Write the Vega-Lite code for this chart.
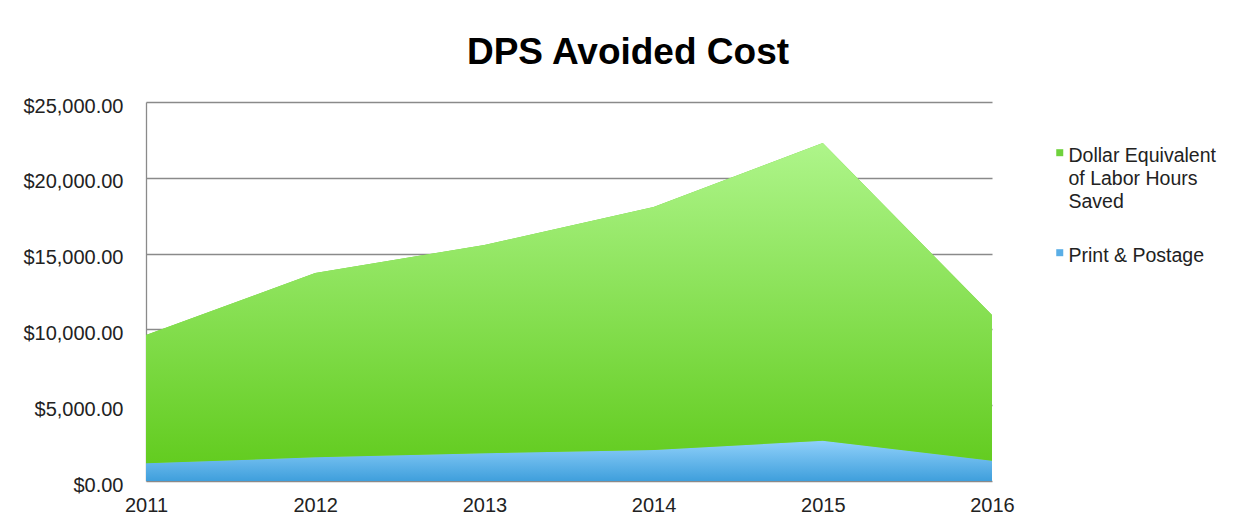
{
  "$schema": "https://vega.github.io/schema/vega-lite/v6.json",
  "width": 846,
  "height": 379,
  "autosize": {"type": "none"},
  "padding": {"left": 146, "top": 102, "right": 257, "bottom": 46},
  "background": "white",
  "config": {
    "view": {"stroke": null},
    "font": "Liberation Sans",
    "style": {"guide-label": {"lineHeight": 23}}
  },
  "title": {
    "text": "DPS Avoided Cost",
    "font": "Liberation Sans",
    "fontSize": 37,
    "fontWeight": "bold",
    "color": "#000000",
    "anchor": "middle",
    "baseline": "alphabetic",
    "dx": 59,
    "dy": 30,
    "offset": 25
  },
  "data": {
    "values": [
      {"year": 2011, "series": "Print & Postage", "value": 1170, "ord": 1},
      {"year": 2012, "series": "Print & Postage", "value": 1560, "ord": 1},
      {"year": 2013, "series": "Print & Postage", "value": 1830, "ord": 1},
      {"year": 2014, "series": "Print & Postage", "value": 2050, "ord": 1},
      {"year": 2015, "series": "Print & Postage", "value": 2660, "ord": 1},
      {"year": 2016, "series": "Print & Postage", "value": 1340, "ord": 1},
      {"year": 2011, "series": "Dollar Equivalent of Labor Hours Saved", "value": 8460, "ord": 2},
      {"year": 2012, "series": "Dollar Equivalent of Labor Hours Saved", "value": 12160, "ord": 2},
      {"year": 2013, "series": "Dollar Equivalent of Labor Hours Saved", "value": 13740, "ord": 2},
      {"year": 2014, "series": "Dollar Equivalent of Labor Hours Saved", "value": 16020, "ord": 2},
      {"year": 2015, "series": "Dollar Equivalent of Labor Hours Saved", "value": 19640, "ord": 2},
      {"year": 2016, "series": "Dollar Equivalent of Labor Hours Saved", "value": 9610, "ord": 2}
    ]
  },
  "transform": [
    {"stack": "value", "groupby": ["year"], "sort": [{"field": "ord", "order": "ascending"}], "as": ["v0", "v1"]}
  ],
  "encoding": {
    "x": {
      "field": "year",
      "type": "quantitative",
      "scale": {"domain": [2011, 2016], "nice": false, "zero": false},
      "axis": {
        "title": null,
        "values": [2011, 2012, 2013, 2014, 2015, 2016],
        "format": "d",
        "grid": false,
        "ticks": false,
        "domain": false,
        "labelFont": "Liberation Sans",
        "labelFontSize": 20,
        "labelColor": "#222222",
        "labelPadding": 14,
        "labelFlush": false
      }
    },
    "y": {
      "field": "v1",
      "type": "quantitative",
      "scale": {"domain": [0, 25000], "nice": false},
      "axis": {
        "title": null,
        "values": [0, 5000, 10000, 15000, 20000, 25000],
        "format": "$,.2f",
        "grid": true,
        "gridColor": "#8a8a8a",
        "gridWidth": 1.3,
        "gridOpacity": 1,
        "ticks": false,
        "domain": true,
        "domainColor": "#8a8a8a",
        "domainWidth": 1.3,
        "labelFont": "Liberation Sans",
        "labelFontSize": 20,
        "labelColor": "#222222",
        "labelPadding": 23,
        "labelOffset": 4
      }
    },
    "y2": {"field": "v0"}
  },
  "layer": [
    {
      "mark": {"type": "area"},
      "encoding": {
        "color": {
          "field": "series",
          "type": "nominal",
          "scale": {
            "domain": ["Dollar Equivalent of Labor Hours Saved", "Print & Postage"],
            "range": ["#6fd23c", "#5aaee6"]
          },
          "legend": {
            "orient": "none",
            "legendX": 904,
            "legendY": 35,
            "title": null,
            "padding": 0,
            "symbolType": "M-1,0.7H1V2.7H-1Z",
            "symbolSize": 49,
            "symbolStrokeWidth": 0,
            "labelFont": "Liberation Sans",
            "labelFontSize": 19.5,
            "labelColor": "#222222",
            "labelBaseline": "top",
            "labelOffset": -1,
            "labelLimit": 400,
            "rowPadding": 25,
            "labelExpr": "datum.label == 'Dollar Equivalent of Labor Hours Saved' ? ['Dollar Equivalent', 'of Labor Hours', 'Saved'] : datum.label"
          }
        }
      }
    },
    {
      "transform": [{"filter": "datum.series == 'Print & Postage'"}],
      "mark": {
        "type": "area",
        "color": {
          "gradient": "linear",
          "x1": 0, "y1": 0, "x2": 0, "y2": 1,
          "stops": [
            {"offset": 0, "color": "#8fd0fa"},
            {"offset": 1, "color": "#3f9fdc"}
          ]
        }
      }
    },
    {
      "transform": [{"filter": "datum.series != 'Print & Postage'"}],
      "mark": {
        "type": "area",
        "color": {
          "gradient": "linear",
          "x1": 0, "y1": 0, "x2": 0, "y2": 1,
          "stops": [
            {"offset": 0, "color": "#aef58a"},
            {"offset": 1, "color": "#63cc20"}
          ]
        }
      }
    }
  ]
}
